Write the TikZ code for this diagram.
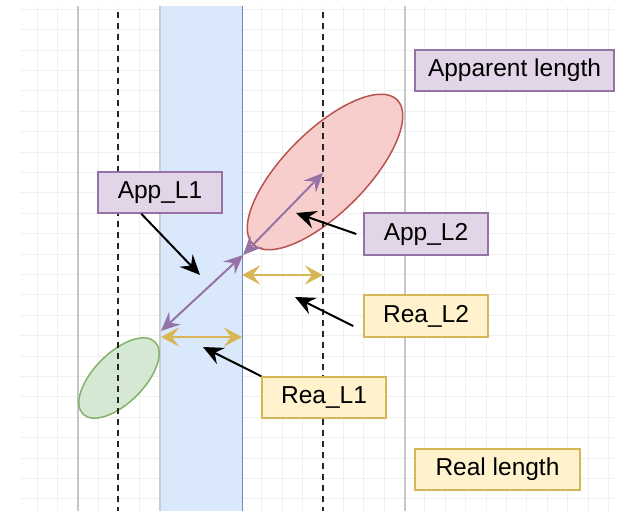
\documentclass[tikz,border=0pt]{standalone}
\usepackage{fontspec}
\setmainfont{Liberation Sans}
\usetikzlibrary{arrows.meta}
\definecolor{purpfill}{HTML}{E1D5E7}
\definecolor{purpline}{HTML}{9673A6}
\definecolor{yelfill}{HTML}{FFF2CC}
\definecolor{yelline}{HTML}{D6B656}
\definecolor{bandfill}{HTML}{DAE8FC}
\definecolor{bandline}{HTML}{6C8EBF}
\definecolor{redfill}{HTML}{F8CECC}
\definecolor{redline}{HTML}{B85450}
\definecolor{greenfill}{HTML}{D5E8D4}
\definecolor{greenline}{HTML}{82B366}

\begin{document}
\begin{tikzpicture}[x=1pt,y=-1pt,
  gridline/.style={line width=0.8pt,black!6},
  appbox/.style={draw=purpline,fill=purpfill,line width=1.5pt,minimum height=41pt,inner sep=0pt,font=\fontsize{24.5}{29}\selectfont},
  reabox/.style={appbox,draw=yelline,fill=yelfill},
  pointer/.style={line width=2pt,-{Stealth[length=20pt,width=18pt,inset=7pt]}},
  applen/.style={draw=purpline,line width=2pt,{Stealth[length=19pt,width=17pt,inset=7pt]}-{Stealth[length=19pt,width=17pt,inset=7pt]}},
  realen/.style={draw=yelline,line width=2.8pt,{Stealth[length=18pt,width=19pt,inset=7pt]}-{Stealth[length=18pt,width=19pt,inset=7pt]}}]
  \useasboundingbox (0,0) rectangle (623,511);
  \def\top{6}
  \def\bot{511}

%grid:
  \begin{scope}
    \clip (20,\top) rectangle (615,\bot);
    \foreach \i in {-3,...,26} \draw[gridline] (78+20.4*\i,\top) -- (78+20.4*\i,\bot);
    \foreach \j in {-2,...,22} \draw[gridline] (20,50+20.4*\j) -- (615,50+20.4*\j);
  \end{scope}
  \draw[line width=1.5pt,black!22] (78,\top) -- (78,\bot);
  \draw[line width=1.5pt,black!22] (405,\top) -- (405,\bot);

%band:
  \fill[bandfill] (160,\top) rectangle (242,\bot);
  \draw[line width=1.5pt,black!20] (160,\top) -- (160,\bot);
  \draw[line width=1pt,bandline] (242,\top) -- (242,\bot);

%ellipses:
  \draw[redline,fill=redfill,line width=1.5pt,rotate around={45:(325,172)}] (325,172) ellipse [x radius=102pt,y radius=41pt];
  \draw[greenline,fill=greenfill,line width=1.5pt,rotate around={45:(119,378)}] (119,378) ellipse [x radius=51pt,y radius=25pt];

  \draw[line width=2.2pt,black!85,dash pattern=on 6pt off 5pt] (118,12) -- (118,\bot);
  \draw[line width=2.2pt,black!85,dash pattern=on 6pt off 5pt] (323,12) -- (323,\bot);
%%%%%%

  \coordinate (pa) at (161,331);
  \coordinate (pm) at (243,255);
  \coordinate (pb) at (323,173);
  \coordinate (ga) at (161,337);
  \coordinate (gm) at (242,337);
  \coordinate (gc) at (242,275);
  \coordinate (gd) at (323,275);
  \draw[applen] (pa) -- (pm);
  \draw[applen] (pm) -- (pb);
  \draw[realen] (ga) -- (gm);
  \draw[realen] (gc) -- (gd);

  \node[appbox,minimum width=199pt] (apparent) at (514.5,70.5) {Apparent length};
  \node[appbox,minimum width=124pt] (appl1) at (160,192.5) {App\_L1};
  \node[appbox,minimum width=124pt,minimum height=42pt] (appl2) at (426,234) {App\_L2};
  \node[reabox,minimum width=124pt,minimum height=42pt] (real2) at (426,316) {Rea\_L2};
  \node[reabox,minimum width=124pt] (real1) at (324,397.5) {Rea\_L1};
  \node[reabox,minimum width=165pt] (reallen) at (497.5,469.5) {Real length};

  \coordinate (tip1) at (200,275);
  \coordinate (tip2) at (296,213);
  \coordinate (tip3) at (295,297);
  \coordinate (tip4) at (203,347);
  \draw[pointer] ([xshift=44pt]appl1.south west) -- (tip1);
  \draw[pointer] ([xshift=-7pt]appl2.west) -- (tip2);
  \draw[pointer] ([shift={(-10,10)}]real2.west) -- (tip3);
  \draw[pointer] (real1.north west) -- (tip4);
\end{tikzpicture}
\end{document}
